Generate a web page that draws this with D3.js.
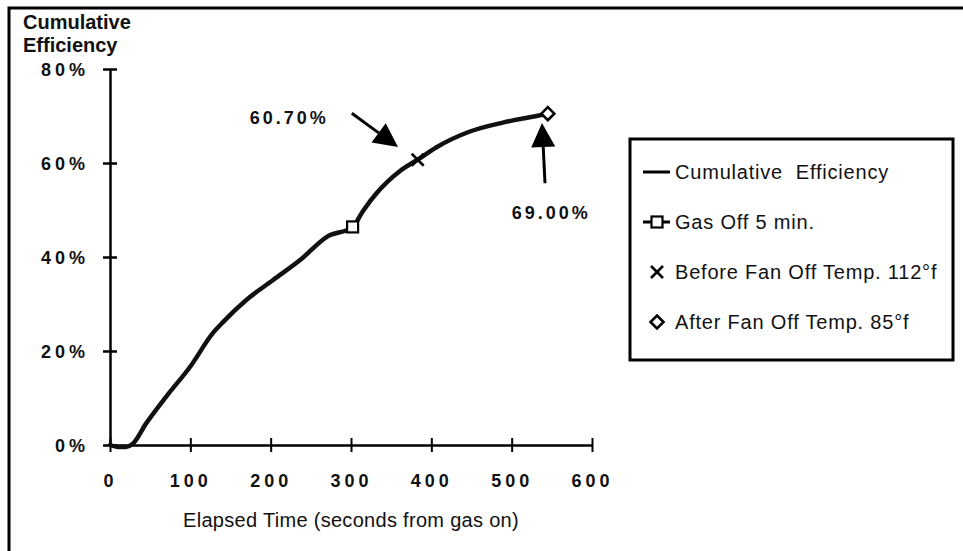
<!DOCTYPE html>
<html>
<head>
<meta charset="utf-8">
<script src="https://cdn.jsdelivr.net/npm/d3@7"></script>
<style>
  body { margin: 0; background: #fff; }
  svg { display: block; font-family: "Liberation Sans", Arial, Helvetica, sans-serif; }
  .num { font-size: 18px; font-weight: bold; letter-spacing: 4px; fill: #111; }
  .lbl { font-size: 20px; fill: #111; white-space: pre; }
</style>
</head>
<body>
<svg id="chart" width="963" height="551"></svg>
<script>
  // elapsed time (s) vs cumulative efficiency (%)
  const times = [0, 10, 20, 28, 45, 70, 100, 128, 141, 170, 203, 237, 270, 302, 315, 332, 361, 383, 407, 448, 489, 531, 545];
  const efficiency = [0, -0.4, -0.4, 0.2, 4.6, 10.3, 16.7, 23.8, 26.2, 30.9, 35.1, 39.4, 44.3, 46.4, 49.8, 53.6, 58.3, 60.7, 63.4, 66.7, 68.6, 70.0, 70.5];

  const gasOff = [302, 46.4];
  const beforeFan = [383, 60.7];
  const afterFan = [545, 70.5];

  const xTicks = [0, 100, 200, 300, 400, 500, 600];
  const yTicks = [0, 20, 40, 60, 80];
  const legendLabels = ["Cumulative  Efficiency", "Gas Off 5 min.", "Before Fan Off Temp. 112°f", "After Fan Off Temp. 85°f"];

  // annotations: [label, textX, textY, arrowFrom, arrowTo] in data units
  const notes = [
    ["60.70%", 174, 68.3, [301, 70.6], [358.5, 63.4]],
    ["69.00%", 500, 48.1, [541.5, 55.7], [537.8, 68.5]]
  ];

  const svg = d3.select('#chart');
  const x = d3.scaleLinear().domain([0, 600]).range([110, 592]);
  const y = d3.scaleLinear().domain([0, 80]).range([445, 69]);

  // outer frame (top and left edges only)
  svg.append('path')
    .attr('d', 'M9,551 L9,8 L963,8')
    .attr('fill', 'none').attr('stroke', '#000').attr('stroke-width', 3);

  // y title
  const yt = svg.append('text').attr('x', 23).attr('y', 29)
    .attr('font-size', 20).attr('font-weight', 'bold').attr('fill', '#111');
  yt.append('tspan').text('Cumulative');
  yt.append('tspan').attr('x', 23).attr('dy', 23).text('Efficiency');

  // y axis
  const yAxis = svg.append('g').attr('transform', `translate(${x(0)},0)`)
    .call(d3.axisLeft(y).tickValues(yTicks).tickSize(7).tickSizeOuter(0).tickPadding(14).tickFormat(d => d + '%'));
  yAxis.select('.domain').attr('stroke-width', 2.5);
  yAxis.selectAll('.tick line').attr('x1', 7).attr('x2', -7).attr('stroke-width', 2.5);
  yAxis.selectAll('.tick text').attr('class', 'num').attr('font-family', null).attr('font-size', null)
    .attr('dy', '0.36em');

  // x axis
  const xAxis = svg.append('g').attr('transform', `translate(0,${y(0)})`)
    .call(d3.axisBottom(x).tickValues(xTicks).tickSize(7).tickSizeOuter(0).tickPadding(22));
  xAxis.select('.domain').attr('stroke-width', 2.5);
  xAxis.selectAll('.tick line').attr('y1', -7).attr('y2', 7).attr('stroke-width', 2);
  xAxis.selectAll('.tick text').attr('class', 'num').attr('font-family', null).attr('font-size', null);

  svg.append('text').attr('class', 'lbl').attr('x', (x(0) + x(600)) / 2).attr('y', 527)
    .attr('text-anchor', 'middle').style('letter-spacing', '0.3px')
    .text('Elapsed Time (seconds from gas on)');

  // curve
  const line = d3.line()
    .x(d => x(d[0]))
    .y(d => y(d[1]))
    .curve(d3.curveMonotoneX);
  svg.append('path').datum(d3.zip(times, efficiency))
    .attr('d', line)
    .attr('fill', 'none').attr('stroke', '#111').attr('stroke-width', 4.5)
    .attr('stroke-linecap', 'round').attr('stroke-linejoin', 'round');

  // markers
  const sym = (g, kind, cx, cy) => {
    if (kind === 'square') {
      g.append('rect').attr('x', cx - 5.5).attr('y', cy - 5.5).attr('width', 11).attr('height', 11)
        .attr('fill', '#fff').attr('stroke', '#000').attr('stroke-width', 2.2);
    } else if (kind === 'cross') {
      g.append('path').attr('d', `M${cx - 6},${cy - 6}L${cx + 6},${cy + 6}M${cx - 6},${cy + 6}L${cx + 6},${cy - 6}`)
        .attr('stroke', '#000').attr('stroke-width', 2.6);
    } else if (kind === 'diamond') {
      g.append('path').attr('d', `M${cx},${cy - 6.5}L${cx + 6.5},${cy}L${cx},${cy + 6.5}L${cx - 6.5},${cy}Z`)
        .attr('fill', '#fff').attr('stroke', '#000').attr('stroke-width', 2.6);
    }
  };
  const marks = svg.append('g');
  sym(marks, 'square', x(gasOff[0]), y(gasOff[1]));
  sym(marks, 'cross', x(beforeFan[0]), y(beforeFan[1]));
  sym(marks, 'diamond', x(afterFan[0]), y(afterFan[1]));

  // annotations with arrows
  notes.forEach(([label, tx, ty, from, to]) => {
    svg.append('text').attr('class', 'num').style('letter-spacing', '3px')
      .attr('x', x(tx)).attr('y', y(ty)).text(label);
    const x1 = x(from[0]), y1 = y(from[1]), x2 = x(to[0]), y2 = y(to[1]);
    const len = Math.hypot(x2 - x1, y2 - y1);
    const ux = (x2 - x1) / len, uy = (y2 - y1) / len;
    const head = 24, half = 12;
    const bx = x2 - ux * head, by = y2 - uy * head;
    svg.append('line').attr('x1', x1).attr('y1', y1).attr('x2', bx).attr('y2', by)
      .attr('stroke', '#000').attr('stroke-width', 3);
    svg.append('path')
      .attr('d', `M${x2},${y2}L${bx - uy * half},${by + ux * half}L${bx + uy * half},${by - ux * half}Z`)
      .attr('fill', '#000');
  });

  // legend
  const lg = svg.append('g');
  lg.append('rect').attr('x', 630).attr('y', 139).attr('width', 323).attr('height', 221)
    .attr('fill', '#fff').attr('stroke', '#000').attr('stroke-width', 3);
  const kinds = ['line', 'square', 'cross', 'diamond'];
  legendLabels.forEach((t, i) => {
    const cy = 172 + i * 50;
    if (kinds[i] === 'line' || kinds[i] === 'square') {
      lg.append('line').attr('x1', 643).attr('x2', 670).attr('y1', cy).attr('y2', cy)
        .attr('stroke', '#000').attr('stroke-width', 3);
    }
    if (kinds[i] !== 'line') sym(lg, kinds[i], 657, cy);
    lg.append('text').attr('class', 'lbl').style('letter-spacing', '0.8px')
      .attr('x', 675).attr('y', cy + 7).text(t);
  });
</script>
</body>
</html>
